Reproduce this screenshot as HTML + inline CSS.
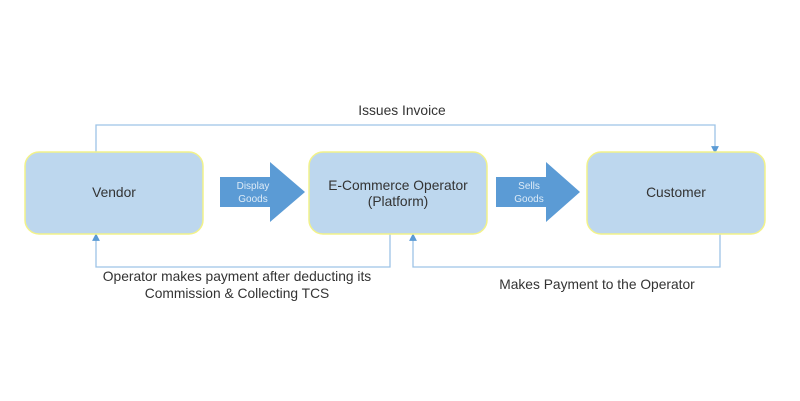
<!DOCTYPE html>
<html><head><style>
body{margin:0;background:#fff;}
svg{display:block;font-family:"Liberation Sans",sans-serif;}
</style></head><body>
<svg width="800" height="401" viewBox="0 0 800 401">
<defs><marker id="a" markerWidth="6" markerHeight="6" refX="3" refY="3" orient="auto"><path d="M0,0 L6,3 L0,6 z" fill="#5b9bd5"/></marker></defs>
<g fill="none" stroke="#9dc3e6" stroke-width="1.3">
<path d="M96,152 V125 H715 V150" marker-end="url(#a)"/>
<path d="M390,234 V267 H96 V237" marker-end="url(#a)"/>
<path d="M720,234 V267 H413 V237" marker-end="url(#a)"/>
</g>
<g fill="#bdd7ee" stroke="#f2f28a" stroke-width="1.5">
<rect x="25" y="152" width="178" height="82" rx="14"/>
<rect x="309" y="152" width="178" height="82" rx="14"/>
<rect x="587" y="152" width="178" height="82" rx="14"/>
</g>
<path d="M220,177 H270 V162 L305,192 L270,222 V207 H220 Z" fill="#5b9bd5"/>
<path d="M496,177 H546 V162 L580,192 L546,222 V207 H496 Z" fill="#5b9bd5"/>
<g fill="#333" font-size="13.8" text-anchor="middle">
<text x="114" y="197">Vendor</text>
<text x="398" y="190">E-Commerce Operator</text>
<text x="398" y="206">(Platform)</text>
<text x="676" y="197">Customer</text>
<text x="402" y="115">Issues Invoice</text>
<text x="237" y="281">Operator makes payment after deducting its</text>
<text x="237" y="298">Commission &amp; Collecting TCS</text>
<text x="597" y="289">Makes Payment to the Operator</text>
</g>
<g fill="#ddebf7" font-size="10" text-anchor="middle">
<text x="253" y="189">Display</text>
<text x="253" y="202">Goods</text>
<text x="529" y="189">Sells</text>
<text x="529" y="202">Goods</text>
</g>
</svg>
</body></html>
